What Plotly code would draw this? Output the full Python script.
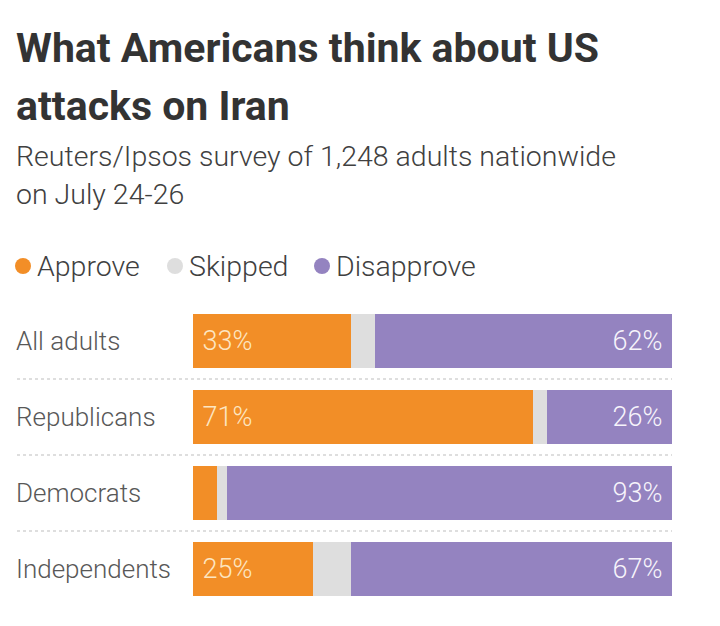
import plotly.graph_objects as go

groups = ["All adults", "Republicans", "Democrats", "Independents"]
approve = [33, 71, 5, 25]
skipped = [5, 3, 2, 8]
disapprove = [62, 26, 93, 67]
legend_names = ["Approve", "Skipped", "Disapprove"]

ORANGE = "#F28E27"
GREY = "#DEDEDE"
PURPLE = "#9483C0"
COLORS = [ORANGE, GREY, PURPLE]

# page has an 8px body margin, so the figure is a bit smaller than the window
OFF = 8
W, H = 720 - OFF, 626 - OFF
M_L, M_R, M_T, M_B = 9, 48, 295, 19
plot_w = W - M_L - M_R
plot_h = H - M_T - M_B
BODY = "Roboto"


def px(x):
    # screen column -> paper x
    return (x - OFF - M_L) / plot_w


def py(y):
    # screen row -> paper y
    return (H - M_B - (y - OFF)) / plot_h


def lbl(vals, left=True):
    nb = "\u00a0"
    return [(nb + f"{v}%" if left else f"{v}%" + nb) if v >= 10 else "" for v in vals]


fig = go.Figure()

fig.add_trace(go.Bar(
    y=groups, x=approve, orientation="h", name="Approve",
    marker=dict(color=ORANGE, line=dict(width=0)),
    text=lbl(approve), textposition="inside", insidetextanchor="start",
    textfont=dict(color="#FDE6C2", size=27, family=BODY, weight=300),
    showlegend=False, hoverinfo="x+y",
))
fig.add_trace(go.Bar(
    y=groups, x=skipped, orientation="h", name="Skipped",
    marker=dict(color=GREY, line=dict(width=0)),
    showlegend=False, hoverinfo="x+y",
))
fig.add_trace(go.Bar(
    y=groups, x=disapprove, orientation="h", name="Disapprove",
    marker=dict(color=PURPLE, line=dict(width=0)),
    text=lbl(disapprove, left=False), textposition="inside", insidetextanchor="end",
    textfont=dict(color="#F7F4FB", size=27, family=BODY, weight=300),
    showlegend=False, hoverinfo="x+y",
))

annotations = []
# title and subtitle
for txt, yc, size, weight, col in [
    ("What Americans think about US", 48, 41, 700, "#333333"),
    ("attacks on Iran", 106, 41, 700, "#333333"),
    ("Reuters/Ipsos survey of 1,248 adults nationwide", 157, 28.5, 300, "#404040"),
    ("on July 24-26", 195, 28.5, 300, "#404040"),
]:
    annotations.append(dict(
        text=txt, xref="paper", yref="paper", x=px(14), y=py(yc),
        xanchor="left", yanchor="middle", showarrow=False,
        font=dict(size=size, color=col, family="Roboto", weight=weight),
    ))

# legend: dots + labels
shapes = []
legend_dot_x = [23, 175, 322]
for name, col, xd in zip(legend_names, COLORS, legend_dot_x):
    shapes.append(dict(
        type="circle", xref="paper", yref="paper",
        xsizemode="pixel", ysizemode="pixel",
        xanchor=px(xd), yanchor=py(266),
        x0=-8, x1=8, y0=-8, y1=8,
        fillcolor=col, line=dict(width=0),
    ))
    annotations.append(dict(
        text=name, xref="paper", yref="paper", x=px(xd + 12), y=py(266),
        xanchor="left", yanchor="middle", showarrow=False,
        font=dict(size=28.5, color="#404040", family=BODY, weight=300),
    ))

# category labels on the left
for g in groups:
    annotations.append(dict(
        text=g, xref="paper", yref="y", x=px(14), y=g,
        xanchor="left", yanchor="middle", showarrow=False,
        font=dict(size=26, color="#585858", family=BODY, weight=300),
    ))

# dotted separators between rows
for i in range(len(groups) - 1):
    shapes.append(dict(
        type="line", xref="paper", yref="y", x0=px(17), x1=px(672),
        y0=i + 0.5, y1=i + 0.5,
        line=dict(color="#BDBDBD", width=1, dash="dot"),
    ))

fig.update_layout(
    width=W, height=H,
    barmode="stack", bargap=0.29,
    margin=dict(l=M_L, r=M_R, t=M_T, b=M_B),
    paper_bgcolor="white", plot_bgcolor="white",
    annotations=annotations, shapes=shapes,
    font=dict(family=BODY),
    uniformtext=dict(minsize=27, mode="show"),
)
fig.update_xaxes(domain=[px(193), px(672)], range=[0, 100],
                 visible=False, fixedrange=True)
fig.update_yaxes(autorange="reversed", visible=False, fixedrange=True)

fig.write_html("out.html")
